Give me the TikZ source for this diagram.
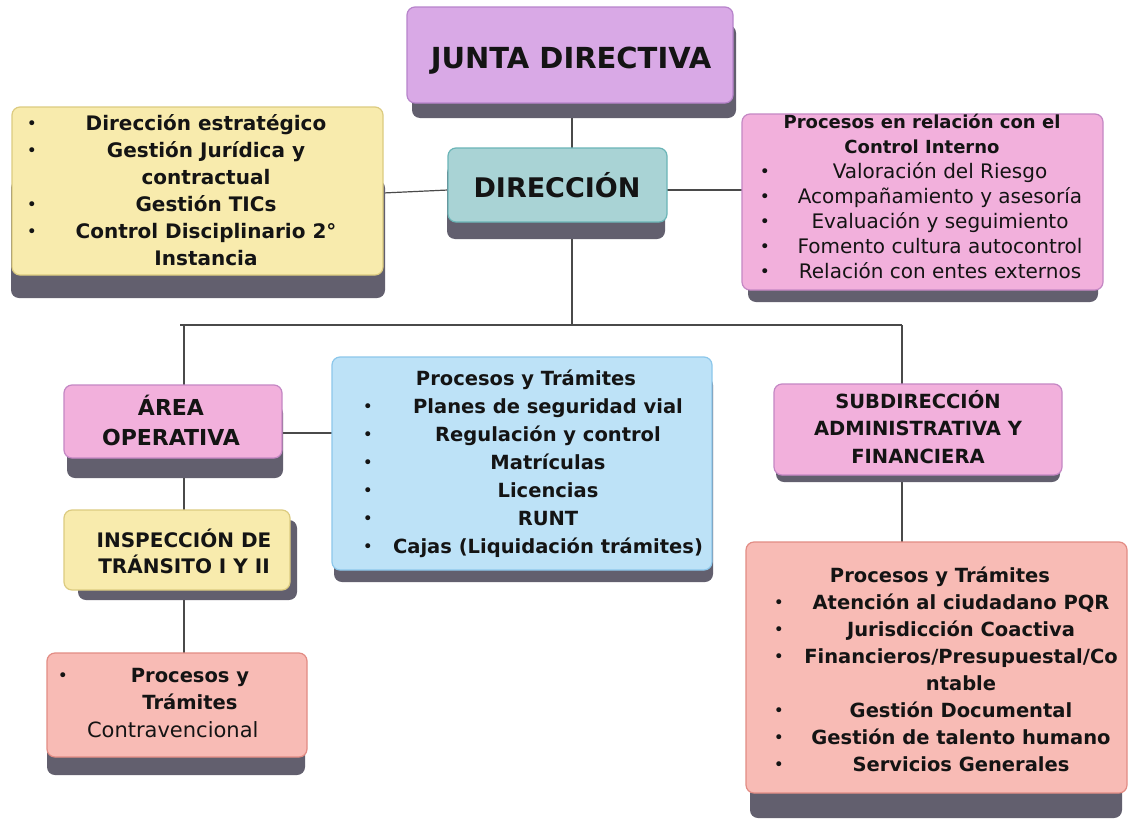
\documentclass[tikz,border=0pt]{standalone}
\usepackage{fontspec}
\setmainfont{DejaVu Sans}
\usepackage{array}
\newcolumntype{C}[1]{>{\centering\arraybackslash}p{#1}}
\usetikzlibrary{calc}
\pgfdeclarelayer{conn}
\pgfdeclarelayer{shad}
\pgfsetlayers{conn,shad,main}
\definecolor{ink}{HTML}{141414}
\definecolor{linec}{HTML}{4A4A4A}
\definecolor{shadowc}{HTML}{625F6E}
\definecolor{juntaf}{HTML}{D9A9E6}
\definecolor{juntab}{HTML}{B784CB}
\definecolor{dirf}{HTML}{A9D3D5}
\definecolor{dirb}{HTML}{6BB5B7}
\definecolor{yelf}{HTML}{F8EBAD}
\definecolor{yelb}{HTML}{DCCB80}
\definecolor{pinkf}{HTML}{F2B0DC}
\definecolor{pinkb}{HTML}{C487C4}
\definecolor{bluef}{HTML}{BDE2F7}
\definecolor{blueb}{HTML}{8CC7EB}
\definecolor{redf}{HTML}{F8BBB5}
\definecolor{redb}{HTML}{E28C84}
\newcommand{\shadowof}[5]{%
  \fill[shadowc, rounded corners=8pt] ($(#1.north west)+(#2,#3)$) rectangle ($(#1.south east)+(#4,#5)$);}
\newcommand{\bul}{\raisebox{1pt}{\normalfont\fontsize{17}{17}\selectfont •}}
\begin{document}
\begin{tikzpicture}[x=1pt,y=-1pt,
  face/.style={rounded corners=8pt, line width=1.2pt, inner sep=0pt, outer sep=0pt},
  txt/.style={inner sep=0pt, outer sep=0pt, text=ink},
  link/.style={draw=linec, line width=1.2pt},
]
\useasboundingbox (0,0) rectangle (1134,819);

% ---------- faces ----------
\node[face, fill=juntaf, draw=juntab, minimum width=326pt, minimum height=96pt] (junta) at (570,55) {};
\node[face, fill=dirf, draw=dirb, minimum width=219pt, minimum height=74pt] (dir) at (557.5,185) {};
\node[face, fill=yelf, draw=yelb, minimum width=371pt, minimum height=168pt] (yel) at (197.5,191) {};
\node[face, fill=pinkf, draw=pinkb, minimum width=361pt, minimum height=176pt] (pink) at (922.5,202) {};
\node[face, fill=bluef, draw=blueb, minimum width=380pt, minimum height=213pt] (blue) at (522,463.5) {};
\node[face, fill=pinkf, draw=pinkb, minimum width=218pt, minimum height=73pt] (area) at (173,421.5) {};
\node[face, fill=yelf, draw=yelb, minimum width=226pt, minimum height=80pt] (insp) at (177,550) {};
\node[face, fill=redf, draw=redb, minimum width=260pt, minimum height=104pt] (redA) at (177,705) {};
\node[face, fill=pinkf, draw=pinkb, minimum width=288pt, minimum height=91pt] (sub) at (918,429.5) {};
\node[face, fill=redf, draw=redb, minimum width=381pt, minimum height=251pt] (redB) at (936.5,667.5) {};

% ---------- shadows ----------
\begin{pgfonlayer}{shad}
\shadowof{junta}{5}{18}{3}{15}
\shadowof{dir}{-1}{17}{-2}{17}
\shadowof{yel}{-1}{73}{2}{23}
\shadowof{pink}{6}{20}{-5}{12}
\shadowof{blue}{2}{20}{1}{12}
\shadowof{area}{3}{20}{1}{20}
\shadowof{insp}{14}{10}{7}{10}
\shadowof{redA}{0}{20}{-2}{18}
\shadowof{sub}{2}{10}{-2}{7}
\shadowof{redB}{4}{25}{-5}{25}
\end{pgfonlayer}

% ---------- connectors ----------
\coordinate (busL) at (180,325);
\coordinate (busR) at (902,325);
\coordinate (bus) at (572,325);
\begin{pgfonlayer}{conn}
\fill[white] (0,0) rectangle (1134,819);
\draw[link] ([xshift=2pt]junta.south) -- ([xshift=2pt]junta.south |- dir.north);
\draw[link] ([yshift=-5pt]dir.west) -- ([yshift=-2pt]yel.east);
\draw[link] ([yshift=-5pt]dir.east) -- ([yshift=-5pt]dir.east -| pink.west);
\draw[link] ([xshift=14.5pt]dir.south) -- (bus);
\draw[link] (busL) -- (busR);
\draw[link] ([xshift=11pt]area.north) -- ([xshift=11pt]area.north |- busL);
\draw[link] ([xshift=-16pt]sub.north) -- ([xshift=-16pt]sub.north |- busR);
\draw[link] ([yshift=-11.5pt]area.east) -- ([yshift=-11.5pt]area.east -| blue.west);
\draw[link] ([xshift=11pt]area.south) -- ([xshift=11pt]area.south |- insp.north);
\draw[link] ([xshift=7pt]insp.south) -- ([xshift=7pt]insp.south |- redA.north);
\draw[link] ([xshift=-16pt]sub.south) -- ([xshift=-16pt]sub.south |- redB.north);
\end{pgfonlayer}

% ---------- texts ----------
\node[txt, anchor=base, font=\bfseries\fontsize{29}{34}\selectfont] (juntat) at (571,68) {JUNTA DIRECTIVA};
\node[txt, anchor=base, font=\bfseries\fontsize{27}{32}\selectfont] (dirt) at (557,197) {DIRECCIÓN};

\node[txt, anchor=base west, font=\bfseries\fontsize{20}{27}\selectfont] (yelt) at (22,130)
 {\begin{tabular}[t]{@{}C{20pt}@{}C{328pt}@{}}
 \bul & Dirección estratégico\\
 \bul & Gestión Jurídica y\\
   & contractual\\
 \bul & Gestión TICs\\
 \bul & Control Disciplinario 2°\\
   & Instancia
 \end{tabular}};

\node[txt, anchor=base west, font=\fontsize{20}{25}\selectfont] (pinkt) at (755,128)
 {\begin{tabular}[t]{@{}C{20pt}@{}C{330pt}@{}}
 \multicolumn{2}{@{}l@{}}{\makebox[334pt][c]{\bfseries\fontsize{18}{25}\selectfont Procesos en relación con el}}\\
 \multicolumn{2}{@{}l@{}}{\makebox[334pt][c]{\bfseries\fontsize{18}{25}\selectfont Control Interno}}\\
 \bul & Valoración del Riesgo\\
 \bul & Acompañamiento y asesoría\\
 \bul & Evaluación y seguimiento\\
 \bul & Fomento cultura autocontrol\\
 \bul & Relación con entes externos
 \end{tabular}};

\node[txt, anchor=base west, font=\bfseries\fontsize{19.5}{28}\selectfont] (bluet) at (358,385)
 {\begin{tabular}[t]{@{}C{20pt}@{}C{340pt}@{}}
 \multicolumn{2}{@{}l@{}}{\makebox[336pt][c]{Procesos y Trámites}}\\
 \bul & Planes de seguridad vial\\
 \bul & Regulación y control\\
 \bul & Matrículas\\
 \bul & Licencias\\
 \bul & RUNT\\
 \bul & Cajas (Liquidación trámites)
 \end{tabular}};

\node[txt, anchor=base, font=\bfseries\fontsize{22}{30}\selectfont] (areat) at (171,415)
 {\begin{tabular}[t]{@{}c@{}}ÁREA\\OPERATIVA\end{tabular}};

\node[txt, anchor=base, font=\bfseries\fontsize{20}{26}\selectfont] (inspt) at (184,547)
 {\begin{tabular}[t]{@{}c@{}}INSPECCIÓN DE\\TRÁNSITO I Y II\end{tabular}};

\node[txt, anchor=base west, font=\bfseries\fontsize{19.5}{27.5}\selectfont] (redAt) at (53,682)
 {\begin{tabular}[t]{@{}C{20pt}@{}C{234pt}@{}}
 \bul & Procesos y\\
   & Trámites\\
 \multicolumn{2}{@{}l@{}}{\hspace{34pt}\normalfont\fontsize{21}{27.5}\selectfont Contravencional}
 \end{tabular}};

\node[txt, anchor=base, font=\bfseries\fontsize{19.5}{27.5}\selectfont] (subt) at (918,408)
 {\begin{tabular}[t]{@{}c@{}}SUBDIRECCIÓN\\ADMINISTRATIVA Y\\FINANCIERA\end{tabular}};

\node[txt, anchor=base west, font=\bfseries\fontsize{19.5}{27}\selectfont] (redBt) at (769,582)
 {\begin{tabular}[t]{@{}C{20pt}@{}C{344pt}@{}}
 \multicolumn{2}{@{}l@{}}{\makebox[342pt][c]{Procesos y Trámites}}\\
 \bul & Atención al ciudadano PQR\\
 \bul & Jurisdicción Coactiva\\
 \bul & Financieros/Presupuestal/Co\\
   & ntable\\
 \bul & Gestión Documental\\
 \bul & Gestión de talento humano\\
 \bul & Servicios Generales
 \end{tabular}};
\end{tikzpicture}
\end{document}
